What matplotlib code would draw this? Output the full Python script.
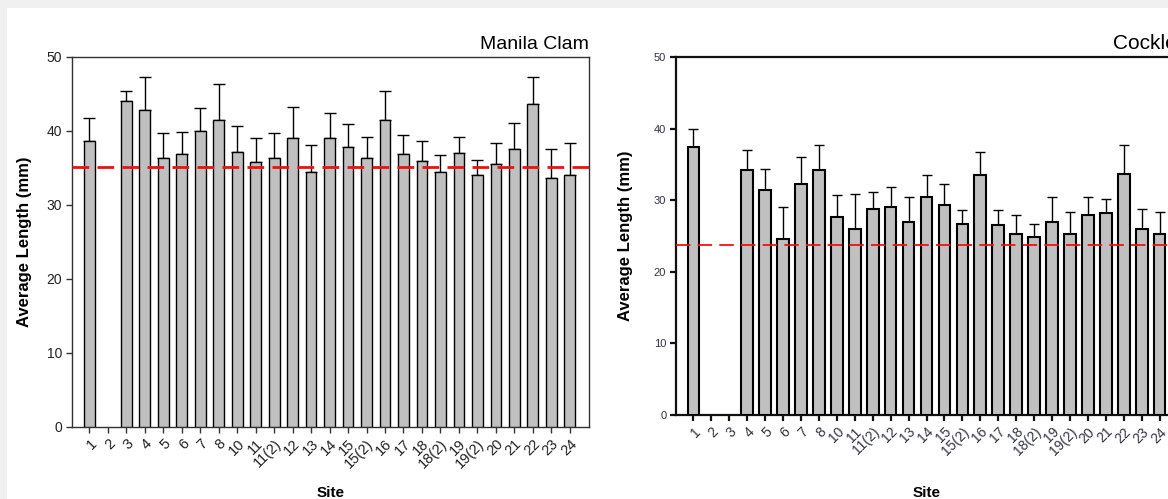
import matplotlib
matplotlib.use("Agg")
import matplotlib.pyplot as plt
import numpy as np
from matplotlib.patches import Rectangle

plt.rcParams['font.family'] = ['Liberation Sans', 'DejaVu Sans']

# site labels shared by both panels
sites = ['1', '2', '3', '4', '5', '6', '7', '8', '10', '11', '11(2)', '12', '13',
         '14', '15', '15(2)', '16', '17', '18', '18(2)', '19', '19(2)', '20',
         '21', '22', '23', '24']

nan = np.nan
clam_mean = [38.6, nan, 44.0, 42.9, 36.4, 36.9, 40.0, 41.5, 37.2, 35.8, 36.3,
             39.1, 34.5, 39.1, 37.8, 36.4, 41.5, 36.9, 36.0, 34.5, 37.0, 34.1,
             35.6, 37.6, 43.7, 33.6, 34.1]
clam_err = [3.1, nan, 1.4, 4.4, 3.3, 3.0, 3.1, 4.8, 3.5, 3.3, 3.4, 4.1, 3.6,
            3.3, 3.1, 2.8, 3.9, 2.6, 2.7, 2.2, 2.2, 2.0, 2.8, 3.5, 3.6, 4.0, 4.3]
clam_ref = 35.1

cockle_mean = [37.5, nan, nan, 34.2, 31.4, 24.6, 32.3, 34.2, 27.7, 26.0, 28.8,
               29.1, 27.0, 30.4, 29.3, 26.7, 33.5, 26.5, 25.3, 24.9, 27.0, 25.3,
               27.9, 28.2, 33.7, 26.0, 25.3]
cockle_err = [2.5, nan, nan, 2.8, 3.0, 4.4, 3.8, 3.5, 3.0, 4.9, 2.3, 2.7, 3.4,
              3.1, 3.0, 1.9, 3.2, 2.1, 2.6, 1.8, 3.4, 3.1, 2.5, 2.0, 4.0, 2.8, 3.1]
cockle_ref = 23.8

W, H = 1168, 499
fig = plt.figure(figsize=(W / 100, H / 100), dpi=100)
fig.patch.set_facecolor('#f0f0f0')
fig.patches.append(Rectangle((7 / W, 0), 1, 1 - 8 / H, transform=fig.transFigure,
                             facecolor='white', edgecolor='none', zorder=-10))


def px_axes(left, right, top, bottom):
    return fig.add_axes([left / W, 1 - bottom / H, (right - left) / W, (bottom - top) / H])


def panel(ax, mean, err, ref, title, xlim, width, edge_lw, spine_c, spine_lw,
          xtick_fs, ytick_fs, title_fs, ref_lw, ref_dash, cap, label_c):
    mean = np.array(mean)
    err = np.array(err)
    x = np.arange(len(sites))
    ok = np.isfinite(mean)
    ax.patch.set_alpha(0)
    ax.errorbar(x[ok], mean[ok], yerr=[np.zeros(ok.sum()), err[ok]], fmt='none',
                ecolor='black', elinewidth=1.0, capsize=cap, capthick=1.0, zorder=2)
    ax.bar(x[ok], mean[ok], width=width, color='#c0c0c0', edgecolor='black',
           linewidth=edge_lw, zorder=3)
    ax.axhline(ref, color='#ee1111', lw=ref_lw, dashes=ref_dash, zorder=5)
    ax.set_xlim(*xlim)
    ax.set_ylim(0, 50)
    ax.set_yticks(range(0, 51, 10))
    ax.set_xticks(x)
    ax.set_xticklabels(sites, rotation=45, ha='right', va='top',
                       rotation_mode='anchor', fontsize=xtick_fs, color=label_c)
    for lab in ax.get_yticklabels():
        lab.set_fontsize(ytick_fs)
        lab.set_color(label_c)
    for s in ax.spines.values():
        s.set_color(spine_c)
        s.set_linewidth(spine_lw)
    ax.tick_params(direction='out', length=4, width=spine_lw, color=spine_c, pad=3)
    ax.set_ylabel('Average Length (mm)', fontsize=12, fontweight='bold')
    ax.set_xlabel('Site', fontsize=11, fontweight='bold')
    ax.set_title(title, loc='right', fontsize=title_fs, pad=6)


ax1 = px_axes(72, 589, 57, 427)
panel(ax1, clam_mean, clam_err, clam_ref, 'Manila Clam', (-0.94, 27.04), 0.58,
      1.0, '#333333', 1.0, 10.5, 10, 14, 2.0, (6, 3), 4, '#222222')
ax1.yaxis.set_label_coords(-0.077, 0.5)
ax1.xaxis.set_label_coords(0.5, -0.160)

ax2 = px_axes(676, 1177, 57, 415)
panel(ax2, cockle_mean, cockle_err, cockle_ref, 'Cockle', (-0.97, 26.97), 0.65,
      1.5, '#111111', 1.6, 10, 8, 15, 1.3, (8, 4), 3.8, '#333344')
ax2.yaxis.set_label_coords(-0.086, 0.5)
ax2.xaxis.set_label_coords(0.5, -0.198)

fig.savefig('out.png', dpi=100, facecolor=fig.get_facecolor())
